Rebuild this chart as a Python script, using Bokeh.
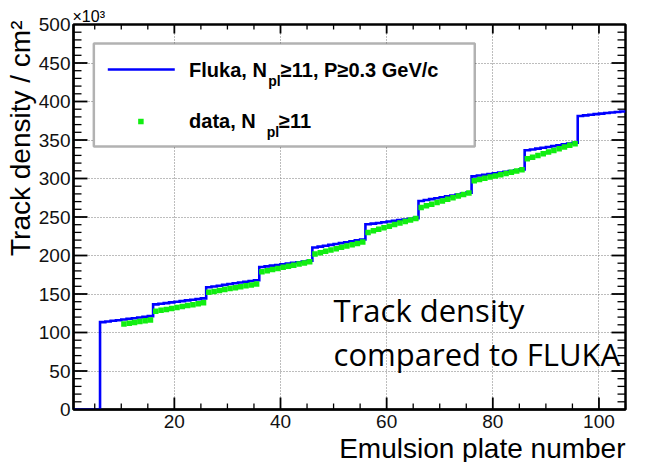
from bokeh.plotting import figure
from bokeh.models import (SingleIntervalTicker, Label, BoxAnnotation, Range1d, Title)
from bokeh.embed import file_html
from bokeh.resources import INLINE

# ---------------- data (track density in units of 10^3 / cm^2) ----------------
plate_edges = list(range(1, 105))          # lower edge of each plate bin (plates 1..104)
fluka_density = [
    0, 0, 0, 0, 0,
    113.5, 114.3, 115.2, 116.0, 116.9, 117.8, 118.6, 119.5, 120.4, 121.3,
    136.5, 137.4, 138.2, 139.1, 140.0, 140.8, 141.7, 142.5, 143.4, 144.3,
    158.8, 159.8, 160.8, 161.9, 162.9, 163.9, 164.9, 165.9, 166.9, 167.9,
    185.0, 185.9, 186.8, 187.7, 188.6, 189.5, 190.4, 191.3, 192.2, 193.1,
    210.3, 211.5, 212.7, 213.8, 215.0, 216.1, 217.3, 218.4, 219.6, 220.7,
    240.5, 241.4, 242.3, 243.2, 244.1, 245.0, 245.9, 246.8, 247.7, 248.6,
    270.8, 272.0, 273.2, 274.4, 275.6, 276.8, 278.0, 279.2, 280.4, 281.6,
    302.8, 303.8, 304.8, 305.8, 306.8, 307.8, 308.8, 309.8, 310.8, 311.8,
    336.6, 337.7, 338.8, 339.9, 341.0, 342.1, 343.2, 344.3, 345.4, 346.5,
    381.2, 382.0, 382.8, 383.6, 384.3, 385.0, 385.7, 386.4, 387.1,
]
data_plates = list(range(10, 96))
data_density = [
    111.0, 112.0, 113.1, 114.2, 115.3, 116.3,
    127.5, 128.8, 130.0, 131.2, 132.5, 133.7, 135.0, 136.2, 137.4, 138.5,
    152.2, 153.4, 154.6, 155.8, 157.0, 158.2, 159.4, 160.6, 161.8, 163.0,
    178.8, 180.3, 181.7, 183.1, 184.6, 186.0, 187.5, 188.9, 190.4, 191.8,
    202.0, 203.7, 205.4, 207.1, 208.8, 210.6, 212.3, 214.0, 215.7, 217.4,
    230.0, 232.0, 234.0, 236.1, 238.1, 240.1, 242.2, 244.2, 246.2, 248.0,
    262.5, 264.6, 266.7, 268.8, 270.9, 273.0, 275.1, 277.2, 279.3, 281.2,
    297.0, 298.6, 300.2, 301.8, 303.4, 305.0, 306.6, 308.2, 309.8, 311.3,
    325.5, 327.7, 329.9, 332.1, 334.3, 336.5, 338.7, 340.9, 343.1, 345.2,
]
x_min, x_max = 1, 105
y_min, y_max = 0, 500
x_tick_labels = ["20", "40", "60", "80", "100"]
y_tick_labels = ["0", "50", "100", "150", "200", "250", "300", "350", "400", "450", "500"]
x_minor_step = 5
y_minor_step = 10

FONT = "Liberation Sans"
FW, FH = 552.0, 385.0
px_x = (x_max - x_min) / FW
px_y = (y_max - y_min) / FH

p = figure(output_backend="svg", toolbar_location=None,
           frame_width=int(FW), frame_height=int(FH),
           x_range=Range1d(x_min, x_max), y_range=Range1d(y_min, y_max),
           min_border_left=73, min_border_right=36, min_border_top=24, min_border_bottom=53,
           background_fill_color="white", border_fill_color="white")
p.outline_line_color = "black"
p.outline_line_width = 2.5

# multiplier shown as the plot's title, top-left
p.title.text = "\u00d710\u00b3"
p.title.align = "left"
p.title.text_font = FONT
p.title.text_font_size = "16px"
p.title.text_font_style = "normal"
p.title.text_color = "black"
p.title.standoff = 0
p.title.offset = -1

# grid
p.xgrid.ticker = SingleIntervalTicker(interval=20)
p.ygrid.ticker = SingleIntervalTicker(interval=50)
for g in (p.xgrid[0], p.ygrid[0]):
    g.grid_line_color = "#7a7a7a"
    g.grid_line_dash = "1 2"
    g.grid_line_width = 1

for ax, interval, standoff in ((p.xaxis[0], 20, 5), (p.yaxis[0], 50, 3)):
    ax.ticker = SingleIntervalTicker(interval=interval, num_minor_ticks=0)
    ax.axis_line_color = "black"
    ax.axis_line_width = 2
    ax.major_tick_in = 0
    ax.major_tick_out = 0
    ax.minor_tick_in = 0
    ax.minor_tick_out = 0
    ax.major_label_text_font = FONT
    ax.major_label_text_font_size = "19px"
    ax.major_label_text_color = "#111111"
    ax.major_label_standoff = standoff
p.xaxis[0].major_label_overrides = {int(s): s for s in x_tick_labels}
p.yaxis[0].major_label_overrides = {int(s): s for s in y_tick_labels}

# axis titles (right-aligned, ROOT style)
p.add_layout(Title(text="Emulsion plate number", align="right", text_font=FONT,
                   text_font_size="28px", text_font_style="normal", text_color="black",
                   standoff=0), "below")
p.add_layout(Title(text="Track density / cm\u00b2", align="right", text_font=FONT,
                   text_font_size="28px", text_font_style="normal", text_color="black",
                   standoff=0, offset=-4), "left")

# ---------------- inward ROOT-style ticks on all four sides ----------------
x_major = [int(s) for s in x_tick_labels]
y_major = [int(s) for s in y_tick_labels]
x_minor = [v for v in range(x_minor_step, x_max + 1, x_minor_step) if v not in x_major and v > x_min]
y_minor = [v for v in range(y_min + y_minor_step, y_max, y_minor_step) if v not in y_major]
y_major_inner = [v for v in y_major if y_min < v < y_max]

TICK = "black"
def vticks(xs, y0, length_px, direction, w):
    L = length_px * px_y * direction
    p.multi_line(xs=[[x, x] for x in xs], ys=[[y0, y0 + L] for _ in xs],
                 line_color=TICK, line_width=w, level="overlay")

def hticks(ys, x0, length_px, direction, w):
    L = length_px * px_x * direction
    p.multi_line(xs=[[x0, x0 + L] for _ in ys], ys=[[y, y] for y in ys],
                 line_color=TICK, line_width=w, level="overlay")

vticks(x_major, y_min, 12, 1, 1.8); vticks(x_minor, y_min, 6, 1, 1.3)
vticks(x_major, y_max, 9, -1, 1.8); vticks(x_minor, y_max, 5, -1, 1.3)
hticks(y_major_inner, x_min, 14, 1, 1.8); hticks(y_minor, x_min, 8, 1, 1.3)
hticks(y_major_inner, x_max, 14, -1, 1.8); hticks(y_minor, x_max, 8, -1, 1.3)

# ---------------- series ----------------
step_x = plate_edges + [x_max]
step_y = fluka_density + [fluka_density[-1]]
p.step(x=step_x, y=step_y, mode="after", line_color="#0000ff", line_width=2.6,
       line_join="miter")

data_x = [v + 0.5 for v in data_plates]
p.scatter(x=data_x, y=data_density, marker="square", size=5.5,
          fill_color="#11ee11", line_color=None)

# ---------------- legend ----------------
p.add_layout(BoxAnnotation(left=4.83, right=76.6, bottom=341.6, top=475.3,
                           fill_color="white", fill_alpha=1.0,
                           line_color="black", line_width=2.5))
p.line(x=[7.46, 20.08], y=[441.6, 441.6], line_color="#0000ff", line_width=2.6,
       level="overlay")
p.scatter(x=[13.7], y=[374.0], marker="square", size=5.5, fill_color="#11ee11",
          line_color=None, level="overlay")

def lab(x, y, text, size, style="bold", font=FONT, **kw):
    l = Label(x=x, y=y, text=text, text_font=font, text_font_size=size,
              text_font_style=style, text_color="black",
              text_baseline="alphabetic", text_align="left", **kw)
    p.add_layout(l)
    return l

lab(22.78, 440.3, "Fluka, N", "20px")
lab(37.67, 426.0, "pl", "14px")
lab(40.07, 440.3, "\u226511, P\u22650.3 GeV/c", "20px")
lab(22.78, 375.3, "data, N", "20px")
lab(37.42, 361.0, "pl", "14px")
lab(39.7, 375.3, "\u226511", "20px")

# ---------------- overlay annotation (kept inside the frame) ----------------
lab(50.0, 128.6, "Track density", "31px", style="normal", font="Open Sans")
lab(50.0, 72.7, "compared to FLUKA", "31px", style="normal", font="Open Sans")

open("out.html", "w").write(file_html(p, INLINE))
